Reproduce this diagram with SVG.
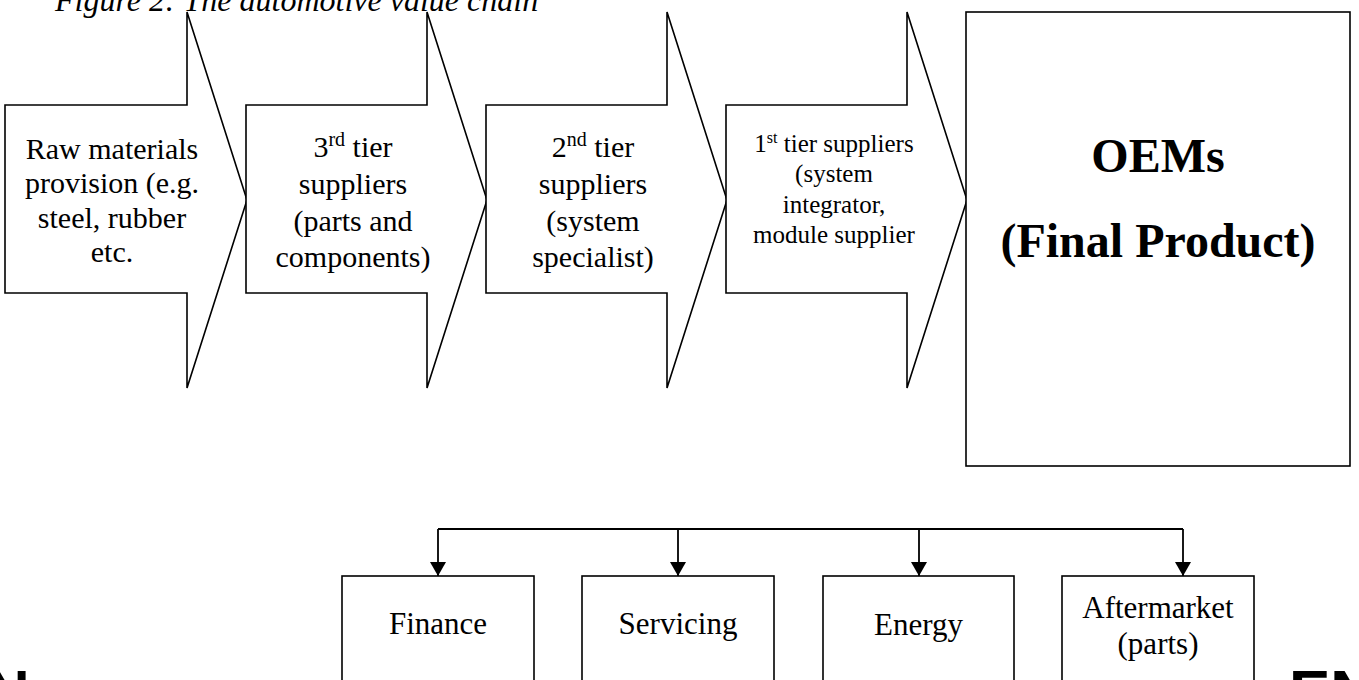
<svg xmlns="http://www.w3.org/2000/svg" width="1359" height="680" viewBox="0 0 1359 680">
<defs>
<style>
.shape{fill:#fff;stroke:#000;stroke-width:1.6}
.t{font-family:"Liberation Serif","Times New Roman",serif;fill:#000;text-anchor:middle}
.body{font-size:30px}
.small{font-size:25px}
.oem{font-size:48px;font-weight:bold}
.box{font-size:31px}
.edge{font-family:"Liberation Sans",Arial,sans-serif;font-weight:bold;font-size:62px;fill:#000}
.conn{fill:none;stroke:#000;stroke-width:1.8}
</style>
<marker id="ah" viewBox="0 0 14 16" refX="14" refY="8" markerWidth="14" markerHeight="16" markerUnits="userSpaceOnUse" orient="auto">
<path d="M0,0 L14,8 L0,16 Z" fill="#000"/>
</marker>
</defs>
<text x="55" y="11" font-family="'Liberation Serif','Times New Roman',serif" font-style="italic" font-size="32" fill="#000">Figure 2: The automotive value chain</text>
<g id="raw">
<path class="shape" d="M5,105 H187 V12 L247,200 L187,388 V293 H5 Z"/>
<text class="t body"><tspan x="112" y="159">Raw materials</tspan><tspan x="112" y="193">provision (e.g.</tspan><tspan x="112" y="228">steel, rubber</tspan><tspan x="112" y="262">etc.</tspan></text>
</g>
<g id="tier3">
<path class="shape" d="M246,105 H427 V12 L487,200 L427,388 V293 H246 Z"/>
<text class="t body"><tspan x="353" y="157">3<tspan font-size="20" dy="-11">rd</tspan><tspan dy="11"> tier</tspan></tspan><tspan x="353" y="194">suppliers</tspan><tspan x="353" y="231">(parts and</tspan><tspan x="353" y="267">components)</tspan></text>
</g>
<g id="tier2">
<path class="shape" d="M486,105 H667 V12 L727,200 L667,388 V293 H486 Z"/>
<text class="t body"><tspan x="593" y="157">2<tspan font-size="20" dy="-11">nd</tspan><tspan dy="11"> tier</tspan></tspan><tspan x="593" y="194">suppliers</tspan><tspan x="593" y="231">(system</tspan><tspan x="593" y="267">specialist)</tspan></text>
</g>
<g id="tier1">
<path class="shape" d="M726,105 H907 V12 L967,200 L907,388 V293 H726 Z"/>
<text class="t small"><tspan x="834" y="152">1<tspan font-size="16" dy="-9">st</tspan><tspan dy="9"> tier suppliers</tspan></tspan><tspan x="834" y="182">(system</tspan><tspan x="834" y="213">integrator,</tspan><tspan x="834" y="243">module supplier</tspan></text>
</g>
<g id="oem">
<rect class="shape" x="966" y="12" width="384" height="454"/>
<text class="t oem"><tspan x="1158" y="172">OEMs</tspan><tspan x="1158" y="257">(Final Product)</tspan></text>
</g>
<g id="connectors">
<path class="conn" d="M438,529 H1183"/>
<path class="conn" d="M438,529 V576" marker-end="url(#ah)"/>
<path class="conn" d="M678,529 V576" marker-end="url(#ah)"/>
<path class="conn" d="M919,529 V576" marker-end="url(#ah)"/>
<path class="conn" d="M1183,529 V576" marker-end="url(#ah)"/>
</g>
<g id="finance">
<rect class="shape" x="342" y="576" width="192" height="130"/>
<text class="t box" x="438" y="634">Finance</text>
</g>
<g id="servicing">
<rect class="shape" x="582" y="576" width="192" height="130"/>
<text class="t box" x="678" y="634">Servicing</text>
</g>
<g id="energy">
<rect class="shape" x="823" y="576" width="191" height="130"/>
<text class="t box" x="918.5" y="635">Energy</text>
</g>
<g id="aftermarket">
<rect class="shape" x="1062" y="576" width="192" height="130"/>
<text class="t box"><tspan x="1158" y="618">Aftermarket</tspan><tspan x="1158" y="654">(parts)</tspan></text>
</g>
<text class="edge" x="-15" y="713">N</text>
<text class="edge" x="1289" y="713">EN</text>
</svg>
